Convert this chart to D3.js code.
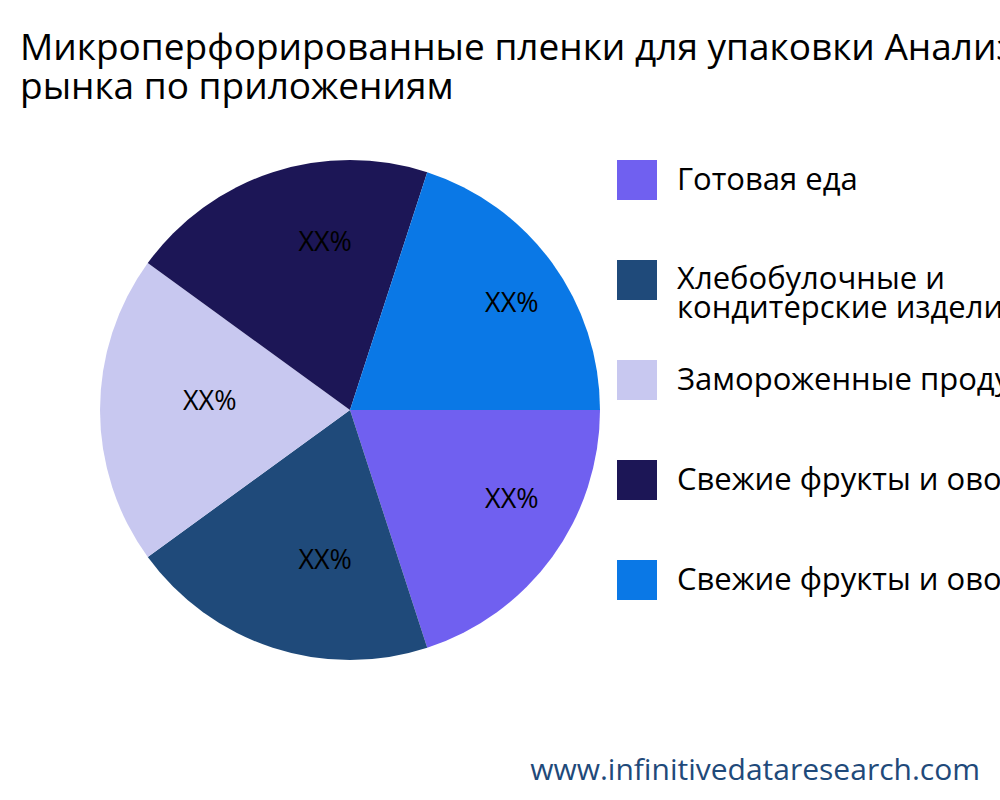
<!DOCTYPE html>
<html lang="ru">
<head>
<meta charset="utf-8">
<script src="https://d3js.org/d3.v7.min.js"></script>
<style>
  body { margin: 0; background: #fff; }
  text { font-family: "Open Sans", "Noto Sans", sans-serif; }
</style>
</head>
<body>
<svg width="1000" height="800"></svg>
<script>
var categories = ["Готовая еда", "Хлебобулочные и\nкондитерские изделия", "Замороженные продукты",
                  "Свежие фрукты и овощи", "Свежие фрукты и овощи"];
var values = [20, 20, 20, 20, 20];
var labels = ["XX%", "XX%", "XX%", "XX%", "XX%"];
var colors = ["#7060F0", "#1F4A7A", "#C8C8F0", "#1C1656", "#0A78E6"];

var svg = d3.select("svg");

svg.append("text").attr("x", 20).attr("y", 60)
    .attr("font-size", 37).attr("fill", "#000")
    .text("Микроперфорированные пленки для упаковки Анализ");
svg.append("text").attr("x", 20).attr("y", 99)
    .attr("font-size", 37).attr("fill", "#000")
    .text("рынка по приложениям");

var pie = d3.pie().sort(null).startAngle(Math.PI / 2).endAngle(Math.PI / 2 + 2 * Math.PI);
var arcs = pie(values);
var arc = d3.arc().innerRadius(0).outerRadius(250);
var labelArc = d3.arc().innerRadius(167).outerRadius(167);

var g = svg.append("g").attr("transform", "translate(350,410)");
g.selectAll("path").data(arcs).enter().append("path")
    .attr("d", arc)
    .attr("fill", function(d, i) { return colors[i]; });
g.selectAll("text").data(arcs).enter().append("text")
    .attr("transform", function(d) { return "translate(" + labelArc.centroid(d) + ")"; })
    .attr("text-anchor", "start")
    .attr("font-size", 27).attr("fill", "#000")
    .attr("font-family", "'DejaVu Sans', sans-serif")
    .text(function(d, i) { return labels[i]; });

var legend = svg.append("g");
categories.forEach(function(c, i) {
  var y = 160 + i * 100;
  legend.append("rect").attr("x", 617).attr("y", y).attr("width", 40).attr("height", 40)
      .attr("fill", colors[i]);
  var t = legend.append("text").attr("x", 677).attr("y", y + 30)
      .attr("font-size", 31).attr("fill", "#000");
  var lines = c.split("\n");
  if (lines.length > 1) t.attr("y", y + 29);
  lines.forEach(function(l, j) {
    t.append("tspan").attr("x", 677).attr("dy", j === 0 ? 0 : 29).text(l);
  });
});

svg.append("text").attr("x", 980).attr("y", 780).attr("text-anchor", "end")
    .attr("font-size", 30).attr("fill", "#1F4A7A")
    .text("www.infinitivedataresearch.com");
</script>
</body>
</html>
